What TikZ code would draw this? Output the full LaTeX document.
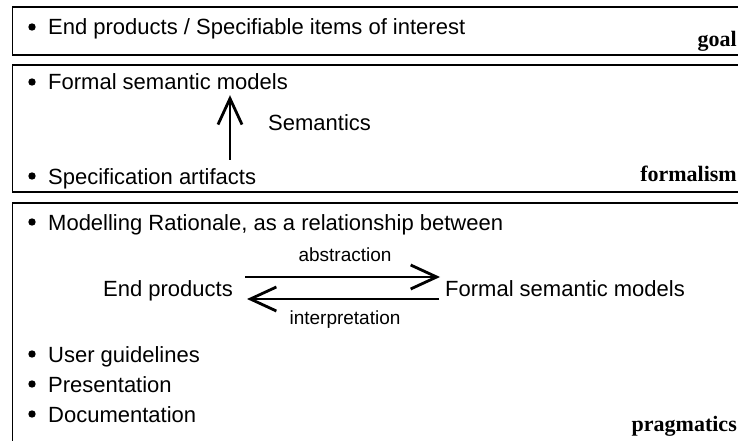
\documentclass[tikz,border=0pt]{standalone}
\usepackage{fontspec}
\setmainfont{Liberation Sans}
\newfontfamily\tagfont{Liberation Serif}
\usetikzlibrary{arrows.meta}
\begin{document}
\begin{tikzpicture}[x=1pt,y=-1pt,
    panel/.style={line width=1.2pt},
    item/.style={anchor=base west,inner sep=0pt,text height=16pt,text depth=5pt,
      font=\fontsize{22}{26}\selectfont},
    lbl/.style={anchor=base,inner sep=0pt,font=\fontsize{19}{23}\selectfont},
    tag/.style={anchor=base east,inner sep=0pt,font=\tagfont\bfseries\fontsize{22}{26}\selectfont},
    rel/.style={line width=2.8pt,-{Straight Barb[length=26pt,width=24pt]}}]
  \useasboundingbox (0,0) rectangle (738,441);
  \clip (0,0) rectangle (738,441);

  % goal
  \draw[panel] (12.5,7) rectangle (760,55);
  \node[item] (items) at (48,35) {End products / Specifiable items of interest};
  \fill ([xshift=-16pt,yshift=8pt]items.base west) circle (3.7pt);
  \node[tag] (goal) at (737,47) {goal};

  % formalism
  \draw[panel] (12.5,65) rectangle (760,192);
  \node[item] (models) at (48,90) {Formal semantic models};
  \fill ([xshift=-16pt,yshift=8pt]models.base west) circle (3.7pt);
  \node[item] (spec) at (48,184) {Specification artifacts};
  \fill ([xshift=-16pt,yshift=8pt]spec.base west) circle (3.7pt);
  \coordinate (semx) at (230,0);
  \draw[rel,shorten <=8pt] (spec.north -| semx) -- (models.south -| semx);
  \node[item] (sem) at (268,131) {Semantics};
  \node[tag] (formalism) at (737,181) {formalism};

  % pragmatics
  \draw[panel] (12.5,203) rectangle (760,470);
  \node[item] (rationale) at (48,230) {Modelling Rationale, as a relationship between};
  \fill ([xshift=-16pt,yshift=8pt]rationale.base west) circle (3.7pt);
  \node[item] (ends) at (103,296) {End products};
  \node[item] (fsm) at (445,296) {Formal semantic models};
  \draw[rel,shorten <=12pt,shorten >=5pt] ([yshift=13.5pt]ends.east) -- ([yshift=13.5pt]fsm.west);
  \draw[rel,shorten <=6pt,shorten >=14pt] ([yshift=-8.5pt]fsm.west) -- ([yshift=-8.5pt]ends.east);
  \node[lbl] (abs) at (345,261) {abstraction};
  \node[lbl] (interp) at (345,324) {interpretation};
  \node[item] (guide) at (48,362) {User guidelines};
  \fill ([xshift=-16pt,yshift=8pt]guide.base west) circle (3.7pt);
  \node[item] (pres) at (48,392) {Presentation};
  \fill ([xshift=-16pt,yshift=8pt]pres.base west) circle (3.7pt);
  \node[item] (doc) at (48,422) {Documentation};
  \fill ([xshift=-16pt,yshift=8pt]doc.base west) circle (3.7pt);
  \node[tag] (pragmatics) at (737,431) {pragmatics};
\end{tikzpicture}
\end{document}
